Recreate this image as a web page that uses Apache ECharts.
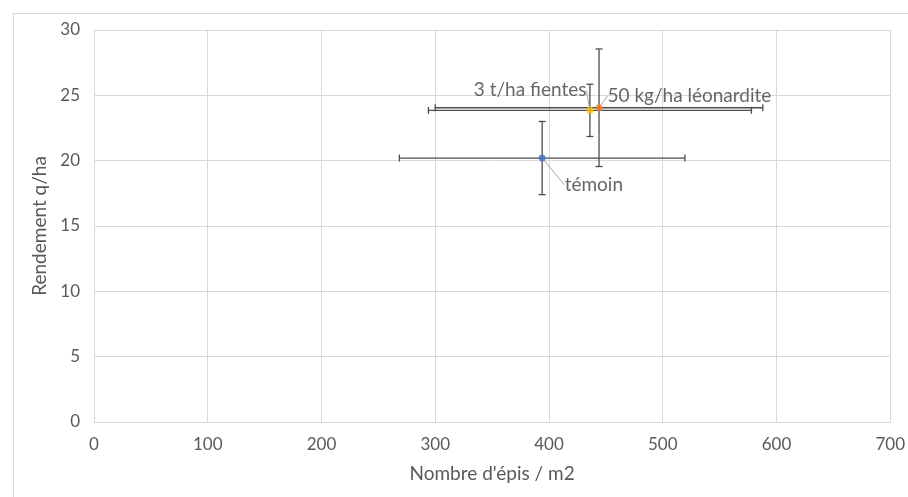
<!DOCTYPE html>
<html>
<head>
<meta charset="utf-8">
<script src="https://cdn.jsdelivr.net/npm/echarts@6/dist/echarts.min.js"></script>
<style>
html,body{margin:0;padding:0;background:#fff;}
#chart{width:908px;height:497px;}
</style>
</head>
<body>
<div id="chart"></div>
<script>
// ---- data ----
const names = ['témoin', '3 t/ha fientes', '50 kg/ha léonardite'];
const epis = [394, 436, 444];            // Nombre d'épis / m2
const rendement = [20.2, 23.85, 24.05];  // Rendement q/ha
const episErr = [125.5, 142, 144];       // ± on x
const rendErr = [2.8, 2.0, 4.5];         // ± on y
const xTicks = [0, 100, 200, 300, 400, 500, 600, 700];
const yTicks = [0, 5, 10, 15, 20, 25, 30];

// ---- styles ----
const pointColors = ['#4472C4', '#FFC000', '#ED7D31'];
const labelOffsets = [[14, 27], [5, -20], [0, -12]];
const labelPos = ['right', 'left', 'right'];
const FONT = 'Lato, "Open Sans", sans-serif';

const chart = echarts.init(document.getElementById('chart'));

const pts = names.map((n, i) => ({
  name: n,
  value: [epis[i], rendement[i], episErr[i], rendErr[i]],
  itemStyle: { color: pointColors[i] },
  label: { position: labelPos[i] }
}));

const cap = 3.5;
function renderErr(params, api) {
  const x = api.value(0), y = api.value(1), ex = api.value(2), ey = api.value(3);
  const l = api.coord([x - ex, y]), r = api.coord([x + ex, y]);
  const t = api.coord([x, y + ey]), b = api.coord([x, y - ey]);
  const style = { stroke: '#4d4d4d', lineWidth: 1.3 };
  const line = (x1, y1, x2, y2) => ({ type: 'line', shape: { x1, y1, x2, y2 }, style });
  return {
    type: 'group',
    children: [
      line(l[0], l[1], r[0], r[1]),
      line(l[0], l[1] - cap, l[0], l[1] + cap),
      line(r[0], r[1] - cap, r[0], r[1] + cap),
      line(t[0], t[1], b[0], b[1]),
      line(t[0] - cap, t[1], t[0] + cap, t[1]),
      line(b[0] - cap, b[1], b[0] + cap, b[1])
    ]
  };
}

chart.setOption({
  animation: false,
  backgroundColor: '#fff',
  textStyle: { fontFamily: FONT },
  graphic: [{
    type: 'rect', left: 11, top: 11,
    shape: { width: 905, height: 495 },
    style: { fill: 'none', stroke: '#D9D9D9', lineWidth: 1 },
    silent: true
  }],
  grid: { left: 94, right: 16, top: 30, bottom: 75 },
  xAxis: {
    type: 'value', min: xTicks[0], max: xTicks[xTicks.length - 1], interval: 100,
    name: "Nombre d'épis / m2", nameLocation: 'middle', nameGap: 42,
    nameTextStyle: { color: '#595959', fontSize: 19, fontFamily: FONT },
    axisLine: { show: true, lineStyle: { color: '#D9D9D9' } },
    axisTick: { show: false },
    axisLabel: { color: '#595959', fontSize: 17, margin: 14, fontFamily: FONT },
    splitLine: { show: true, lineStyle: { color: '#D9D9D9' } }
  },
  yAxis: {
    type: 'value', min: yTicks[0], max: yTicks[yTicks.length - 1], interval: 5,
    name: 'Rendement q/ha', nameLocation: 'middle', nameGap: 43, nameRotate: 90,
    nameTextStyle: { color: '#595959', fontSize: 19, fontFamily: FONT },
    axisLine: { show: true, lineStyle: { color: '#D9D9D9' } },
    axisTick: { show: false },
    axisLabel: { color: '#595959', fontSize: 17, margin: 14, fontFamily: FONT },
    splitLine: { show: true, lineStyle: { color: '#D9D9D9' } }
  },
  series: [
    {
      type: 'custom', renderItem: renderErr, data: pts.map(p => p.value),
      z: 2, silent: true
    },
    {
      type: 'scatter', data: pts, symbolSize: 7, z: 3,
      label: {
        show: true, formatter: '{b}', color: '#404040', fontSize: 19, distance: 5,
        fontFamily: FONT
      },
      labelLine: { show: true, lineStyle: { color: '#A6A6A6', width: 1 } },
      labelLayout: function (p) {
        const o = labelOffsets[p.dataIndex];
        return { dx: o[0], dy: o[1] };
      }
    }
  ]
});
</script>
</body>
</html>
